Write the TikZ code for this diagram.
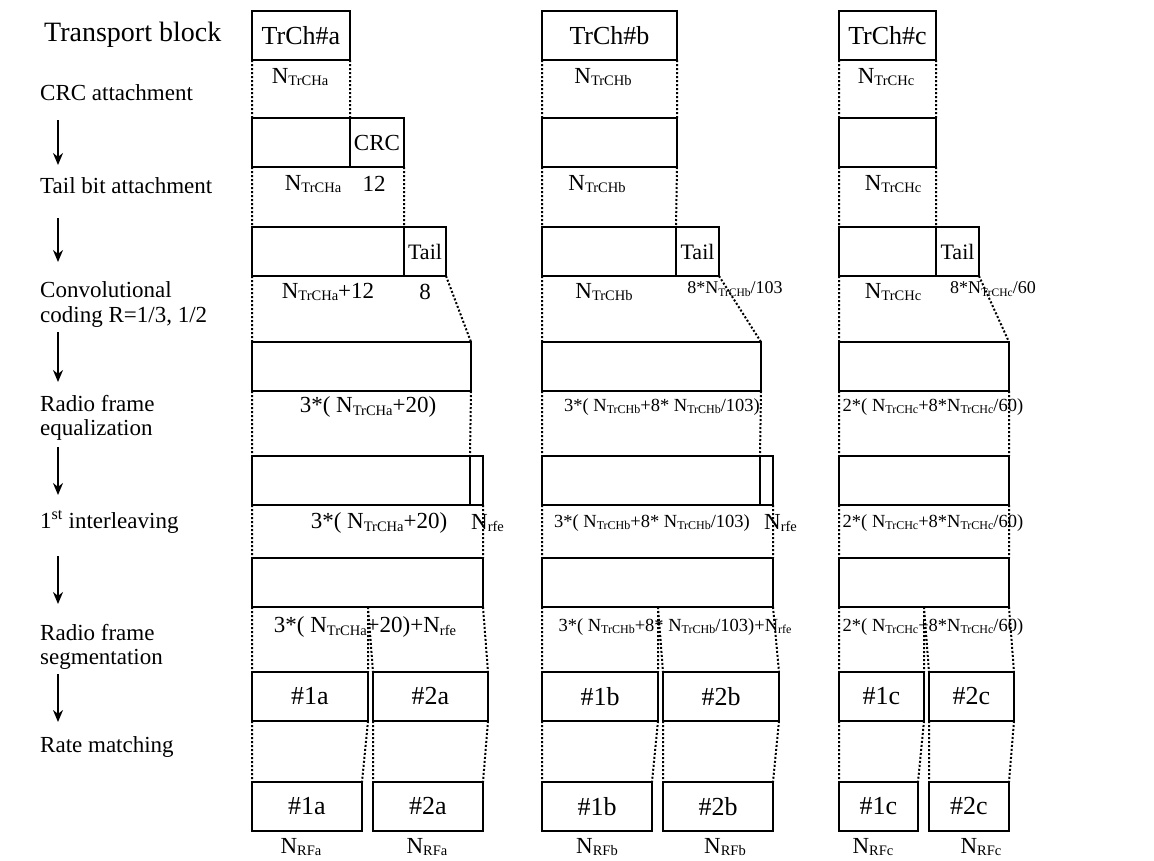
\documentclass[tikz,border=0pt]{standalone}
\usepackage{fontspec}
\setmainfont{Liberation Serif}
\usetikzlibrary{arrows.meta}
\newcommand{\fsz}[1]{\fontsize{#1}{#1}\selectfont}
\newcommand{\NA}[1]{N\raisebox{-0.12em}{\fsz{14.5}#1}}
\newcommand{\NB}[1]{N\raisebox{-0.12em}{\fsz{12}#1}}
\newcommand{\NC}[1]{N\raisebox{-0.12em}{\fsz{11.5}#1}}
\tikzset{
  blk/.style={draw, line width=2.8pt, outer sep=0pt, inner sep=0pt, anchor=north west, minimum height=49pt, font=\fsz{26}},
  dots/.style={line width=2pt, dash pattern=on 2pt off 2pt},
  lbl/.style={inner sep=0pt, font=\fsz{23}},
  lblm/.style={inner sep=0pt, font=\fsz{18.5}},
  lbls/.style={inner sep=0pt, font=\fsz{18}},
  side/.style={inner sep=0pt, anchor=west, align=left, font=\fsz{23}},
  arr/.style={line width=1.6pt, -{Stealth[length=12pt,width=10pt]}}
}
\begin{document}
\begin{tikzpicture}[x=1pt,y=-1pt]
\useasboundingbox (0,0) rectangle (1154,860);
% left labels
\node[side, font=\fsz{28}] (s0) at (44,35) {Transport block};
\node[side] (s1) at (40,93) {CRC attachment};
\node[side] (s2) at (40,186) {Tail bit attachment};
\node[side] (s3) at (40,290) {Convolutional};
\node[side] (s3b) at (40,317) {coding R=1/3, 1/2};
\node[side] (s4) at (40,404) {Radio frame};
\node[side] (s4b) at (40,430) {equalization};
\node[side] (s5) at (40,522) {1\textsuperscript{st} interleaving};
\node[side] (s6) at (40,633) {Radio frame};
\node[side] (s6b) at (40,659) {segmentation};
\node[side] (s7) at (40,747) {Rate matching};
\foreach \i/\a/\b in {1/120/165, 2/218/262, 3/332/382, 4/447/495, 5/556/604, 6/674/722}{
  \coordinate (ar\i s) at (58,\a);
  \coordinate (ar\i e) at (58,\b);
  \draw[arr] (ar\i s) -- (ar\i e);
}
% ---------- column a
\node[blk, minimum width=98pt] (ta) at (252,11) {TrCh\#a};
\node[blk, minimum width=98pt] (ca1) at (252,118) {};
\node[blk, minimum width=54pt, font=\fsz{23}] (ca2) at (350,118) {CRC};
\node[blk, minimum width=152pt] (la1) at (252,227) {};
\node[blk, minimum width=42pt, font=\fsz{22}] (la2) at (404,227) {Tail};
\node[blk, minimum width=219pt] (va) at (252,342) {};
\node[blk, minimum width=218pt] (ea1) at (252,456) {};
\node[blk, minimum width=13pt] (ea2) at (470,456) {};
\node[blk, minimum width=231pt] (sa) at (252,558) {};
\node[blk, minimum width=116pt] (pa1) at (252,672) {\#1a};
\node[blk, minimum width=115pt] (pa2) at (373,672) {\#2a};
\node[blk, minimum width=110pt] (ra1) at (252,782) {\#1a};
\node[blk, minimum width=110pt] (ra2) at (373,782) {\#2a};
% ---------- column b
\node[blk, minimum width=135pt] (tb) at (542,11) {TrCh\#b};
\node[blk, minimum width=135pt] (cb) at (542,118) {};
\node[blk, minimum width=134pt] (lb1) at (542,227) {};
\node[blk, minimum width=43pt, font=\fsz{22}] (lb2) at (676,227) {Tail};
\node[blk, minimum width=219pt] (vb) at (542,342) {};
\node[blk, minimum width=218pt] (eb1) at (542,456) {};
\node[blk, minimum width=13pt] (eb2) at (760,456) {};
\node[blk, minimum width=231pt] (sb) at (542,558) {};
\node[blk, minimum width=116pt] (pb1) at (542,672) {\#1b};
\node[blk, minimum width=116pt] (pb2) at (663,672) {\#2b};
\node[blk, minimum width=110pt] (rb1) at (542,782) {\#1b};
\node[blk, minimum width=110pt] (rb2) at (663,782) {\#2b};
% ---------- column c
\node[blk, minimum width=97pt] (tc) at (839,11) {TrCh\#c};
\node[blk, minimum width=97pt] (cc) at (839,118) {};
\node[blk, minimum width=97pt] (lc1) at (839,227) {};
\node[blk, minimum width=43pt, font=\fsz{22}] (lc2) at (936,227) {Tail};
\node[blk, minimum width=170pt] (vc) at (839,342) {};
\node[blk, minimum width=170pt] (ec) at (839,456) {};
\node[blk, minimum width=170pt] (sc) at (839,558) {};
\node[blk, minimum width=85pt] (pc1) at (839,672) {\#1c};
\node[blk, minimum width=85pt] (pc2) at (929,672) {\#2c};
\node[blk, minimum width=79pt] (rc1) at (839,782) {\#1c};
\node[blk, minimum width=80pt] (rc2) at (929,782) {\#2c};
% ---------- dotted connectors
\coordinate (sam) at (pa1.north east |- sa.south);
\coordinate (sbm) at (pb1.north east |- sb.south);
\coordinate (scm) at (pc1.north east |- sc.south);
\draw[dots]
  (ta.south west) -- (ca1.north west) (ta.south east) -- (ca1.north east)
  (ca1.south west) -- (la1.north west) (ca2.south east) -- (la1.north east)
  (la1.south west) -- (va.north west) (la2.south east) -- (va.north east)
  (va.south west) -- (ea1.north west) (va.south east) -- (ea1.north east)
  (ea1.south west) -- (sa.north west) (ea2.south east) -- (sa.north east)
  (sa.south west) -- (pa1.north west) (sam) -- (pa1.north east) (sam) -- (pa2.north west) (sa.south east) -- (pa2.north east)
  (pa1.south west) -- (ra1.north west) (pa1.south east) -- (ra1.north east)
  (pa2.south west) -- (ra2.north west) (pa2.south east) -- (ra2.north east);
\draw[dots]
  (tb.south west) -- (cb.north west) (tb.south east) -- (cb.north east)
  (cb.south west) -- (lb1.north west) (cb.south east) -- (lb1.north east)
  (lb1.south west) -- (vb.north west) (lb2.south east) -- (vb.north east)
  (vb.south west) -- (eb1.north west) (vb.south east) -- (eb1.north east)
  (eb1.south west) -- (sb.north west) (eb2.south east) -- (sb.north east)
  (sb.south west) -- (pb1.north west) (sbm) -- (pb1.north east) (sbm) -- (pb2.north west) (sb.south east) -- (pb2.north east)
  (pb1.south west) -- (rb1.north west) (pb1.south east) -- (rb1.north east)
  (pb2.south west) -- (rb2.north west) (pb2.south east) -- (rb2.north east);
\draw[dots]
  (tc.south west) -- (cc.north west) (tc.south east) -- (cc.north east)
  (cc.south west) -- (lc1.north west) (cc.south east) -- (lc1.north east)
  (lc1.south west) -- (vc.north west) (lc2.south east) -- (vc.north east)
  (vc.south west) -- (ec.north west) (vc.south east) -- (ec.north east)
  (ec.south west) -- (sc.north west) (ec.south east) -- (sc.north east)
  (sc.south west) -- (pc1.north west) (scm) -- (pc1.north east) (scm) -- (pc2.north west) (sc.south east) -- (pc2.north east)
  (pc1.south west) -- (rc1.north west) (pc1.south east) -- (rc1.north east)
  (pc2.south west) -- (rc2.north west) (pc2.south east) -- (rc2.north east);
% ---------- labels column a
\node[lbl] (a1) at (300,77) {\NA{TrCHa}};
\node[lbl] (a2) at (313,184) {\NA{TrCHa}};
\node[lbl] (a2b) at (374,184) {12};
\node[lbl] (a3) at (328,292) {\NA{TrCHa}+12};
\node[lbl] (a3b) at (425,292) {8};
\node[lbl] (a4) at (368,407) {3*( \NA{TrCHa}+20)};
\node[lbl] (a5) at (379,523) {3*( \NA{TrCHa}+20)};
\node[lbl, anchor=west] (a5b) at (471,523) {\NA{rfe}};
\node[lbl] (a6) at (365,627) {3*( \NA{TrCHa}+20)+\NA{rfe}};
\node[lbl] (a8) at (301,847) {\NA{RFa}};
\node[lbl] (a8b) at (427,847) {\NA{RFa}};
% ---------- labels column b
\node[lbl] (b1) at (603,77) {\NA{TrCHb}};
\node[lbl] (b2) at (597,184) {\NA{TrCHb}};
\node[lbl] (b3) at (604,292) {\NA{TrCHb}};
\node[lbls] (b3b) at (735,289) {8*\NC{TrCHb}/103};
\node[lblm] (b4) at (662,407) {3*( \NB{TrCHb}+8* \NB{TrCHb}/103)};
\node[lblm] (b5) at (652,523) {3*( \NB{TrCHb}+8* \NB{TrCHb}/103)};
\node[lbl, anchor=west] (b5b) at (764,523) {\NA{rfe}};
\node[lblm] (b6) at (675,627) {3*( \NB{TrCHb}+8* \NB{TrCHb}/103)+\NB{rfe}};
\node[lbl] (b8) at (597,847) {\NA{RFb}};
\node[lbl] (b8b) at (725,847) {\NA{RFb}};
% ---------- labels column c
\node[lbl] (c1) at (886,77) {\NA{TrCHc}};
\node[lbl] (c2) at (893,184) {\NA{TrCHc}};
\node[lbl] (c3) at (893,292) {\NA{TrCHc}};
\node[lbls] (c3b) at (993,289) {8*\NC{TrCHc}/60};
\node[lblm] (c4) at (933,407) {2*( \NB{TrCHc}+8*\NB{TrCHc}/60)};
\node[lblm] (c5) at (933,523) {2*( \NB{TrCHc}+8*\NB{TrCHc}/60)};
\node[lblm] (c6) at (933,627) {2*( \NB{TrCHc}+8*\NB{TrCHc}/60)};
\node[lbl] (c8) at (873,847) {\NA{RFc}};
\node[lbl] (c8b) at (981,847) {\NA{RFc}};
\end{tikzpicture}
\end{document}
